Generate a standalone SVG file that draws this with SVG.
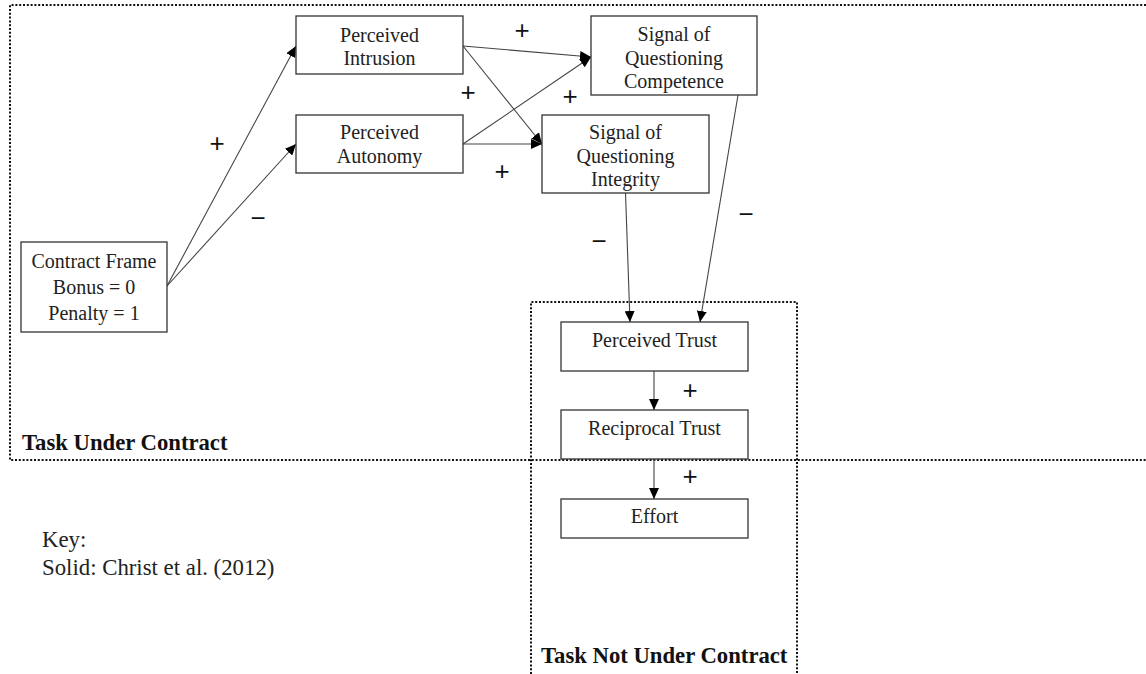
<svg xmlns="http://www.w3.org/2000/svg" width="1146" height="674" viewBox="0 0 1146 674">
<style>
.box{fill:#fff;stroke:#333;stroke-width:1.3}
.t{font-family:"Liberation Serif","Times New Roman",serif;font-size:20px;fill:#222;text-anchor:middle}
.b{font-family:"Liberation Serif","Times New Roman",serif;font-size:22.7px;font-weight:bold;fill:#111}
.k{font-family:"Liberation Serif","Times New Roman",serif;font-size:22.8px;fill:#222}
.s{font-family:"Liberation Sans",Arial,sans-serif;font-size:26px;fill:#111;text-anchor:middle}
.c{fill:none;stroke:#444;stroke-width:1.1}
.dot{fill:none;stroke:#111;stroke-width:2;stroke-dasharray:2 1.8}
</style>
<defs>
<marker id="ah" markerUnits="userSpaceOnUse" markerWidth="12" markerHeight="10" refX="11" refY="5" orient="auto">
<path d="M0,0 L11,5 L0,10 z" fill="#000"/>
</marker>
</defs>
<rect width="1146" height="674" fill="#fff"/>
<g id="regions">
<path class="dot" d="M1146,5 H10 V460 H1146"/>
<path class="dot" d="M531,674 V302 H797 V674"/>
<text class="b" x="22" y="450">Task Under Contract</text>
<text class="b" x="541" y="663">Task Not Under Contract</text>
</g>
<g id="connectors">
<line class="c" x1="167" y1="286" x2="296" y2="46" marker-end="url(#ah)"/>
<line class="c" x1="167" y1="286" x2="296" y2="144" marker-end="url(#ah)"/>
<line class="c" x1="463" y1="46" x2="591" y2="57" marker-end="url(#ah)"/>
<line class="c" x1="463" y1="46" x2="542" y2="144" marker-end="url(#ah)"/>
<line class="c" x1="463" y1="144" x2="591" y2="57" marker-end="url(#ah)"/>
<line class="c" x1="463" y1="144" x2="542" y2="144" marker-end="url(#ah)"/>
<line class="c" x1="625.5" y1="193" x2="630" y2="322" marker-end="url(#ah)"/>
<line class="c" x1="738" y1="95" x2="700" y2="322" marker-end="url(#ah)"/>
<line class="c" x1="654" y1="371" x2="654" y2="410" marker-end="url(#ah)"/>
<line class="c" x1="654" y1="459" x2="654" y2="499" marker-end="url(#ah)"/>
<text class="s" x="217" y="152">+</text>
<text class="s" x="258" y="227">−</text>
<text class="s" x="522" y="39">+</text>
<text class="s" x="468" y="101">+</text>
<text class="s" x="570" y="105">+</text>
<text class="s" x="502" y="180">+</text>
<text class="s" x="746" y="223">−</text>
<text class="s" x="599" y="250">−</text>
<text class="s" x="690" y="399">+</text>
<text class="s" x="690" y="485">+</text>
</g>
<g id="contract-frame">
<rect class="box" x="21" y="242" width="146" height="90"/>
<text class="t" x="94" y="268">Contract Frame</text>
<text class="t" x="94" y="294">Bonus = 0</text>
<text class="t" x="94" y="320">Penalty = 1</text>
</g>
<g id="perceived-intrusion">
<rect class="box" x="296" y="16" width="167" height="58"/>
<text class="t" x="379.5" y="42">Perceived</text>
<text class="t" x="379.5" y="65">Intrusion</text>
</g>
<g id="perceived-autonomy">
<rect class="box" x="296" y="115" width="167" height="58"/>
<text class="t" x="379.5" y="139">Perceived</text>
<text class="t" x="379.5" y="163">Autonomy</text>
</g>
<g id="signal-competence">
<rect class="box" x="591" y="16" width="166" height="79"/>
<text class="t" x="674" y="41">Signal of</text>
<text class="t" x="674" y="65">Questioning</text>
<text class="t" x="674" y="88">Competence</text>
</g>
<g id="signal-integrity">
<rect class="box" x="542" y="115" width="167" height="78"/>
<text class="t" x="625.5" y="139">Signal of</text>
<text class="t" x="625.5" y="163">Questioning</text>
<text class="t" x="625.5" y="186">Integrity</text>
</g>
<g id="perceived-trust">
<rect class="box" x="561" y="322" width="187" height="49"/>
<text class="t" x="654.5" y="347">Perceived Trust</text>
</g>
<g id="reciprocal-trust">
<rect class="box" x="561" y="410" width="187" height="49"/>
<text class="t" x="654.5" y="435">Reciprocal Trust</text>
</g>
<g id="effort">
<rect class="box" x="561" y="499" width="187" height="39"/>
<text class="t" x="654.5" y="523">Effort</text>
</g>
<g id="key">
<text class="k" x="42" y="547">Key:</text>
<text class="k" x="42" y="575">Solid: Christ et al. (2012)</text>
</g>
</svg>
